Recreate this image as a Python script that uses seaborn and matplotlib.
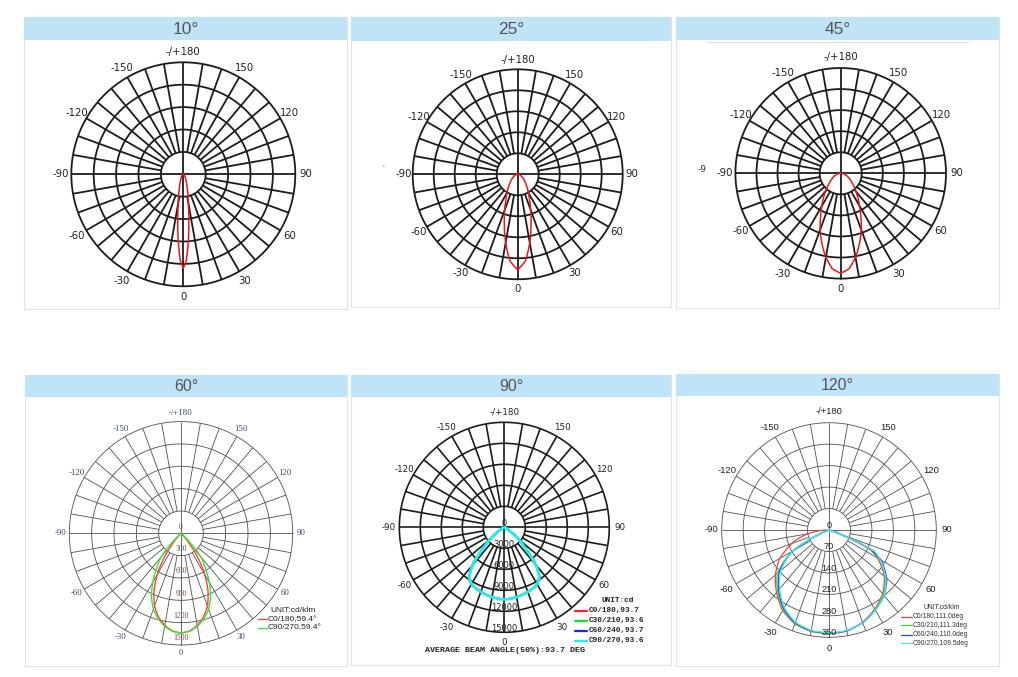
import numpy as np
import matplotlib
matplotlib.use("Agg")
import matplotlib.pyplot as plt
from matplotlib.patches import Rectangle
import seaborn as sns

sns.set_theme(style="white")
plt.rcParams['font.family'] = ['DejaVu Sans']

W, H, DPI = 1018, 677, 100

titles = ["10°", "25°", "45°", "60°", "90°", "120°"]
angle_ticks = [0, 30, 60, 90, 120, 150, 180, -150, -120, -90, -60, -30]
angle_labels = ["0", "30", "60", "90", "120", "150", "-/+180",
                "-150", "-120", "-90", "-60", "-30"]

# ---- top row: relative intensity (% of outer ring), half profiles
gamma_10 = [0, 2, 4, 6, 8, 10, 15, 20, 30, 45, 90]
rel_10 = [84, 77, 62, 47, 35, 26, 14, 8.4, 3.9, 1.6, 0]
gamma_25 = [0, 5, 10, 15, 20, 25, 30, 40, 50, 60, 75, 90]
rel_25 = [91, 83, 66, 49, 36, 26.5, 20, 12, 7.4, 4.6, 2, 0]
gamma_45 = [0, 5, 10, 15, 20, 25, 30, 40, 50, 60, 75, 90]
rel_45 = [95, 91, 81, 69, 57, 45, 35.5, 22, 14, 9, 4, 0]
rings_top = [20, 40, 60, 80, 100]

# ---- 60° (cd/klm)
rings_60 = [300, 600, 900, 1200, 1500]
gamma_60 = [0, 5, 10, 15, 20, 25, 30, 35, 40, 45, 50, 60, 90]
c0_60 = [1340, 1318, 1255, 1165, 1040, 860, 640, 380, 150, 40, 10, 3, 0]
c90_60 = [1340, 1322, 1268, 1188, 1085, 940, 760, 565, 420, 120, 30, 8, 0]
legend_60 = ["C0/180,59.4°", "C90/270,59.4°"]

# ---- 90° (cd)
rings_90 = [3000, 6000, 9000, 12000, 15000]
gamma_90 = [0, 5, 10, 15, 20, 25, 30, 35, 40, 45, 50, 55, 60, 70, 90]
c0_90 = [10280, 10240, 10110, 9970, 9830, 9650, 9420, 8850, 7150, 4400, 2700, 1200, 400, 80, 0]
c30_90 = [10290, 10245, 10115, 9975, 9825, 9640, 9400, 8800, 7100, 4350, 2650, 1150, 380, 70, 0]
c60_90 = [10285, 10240, 10110, 9970, 9815, 9625, 9380, 8780, 7080, 4330, 2620, 1120, 360, 65, 0]
c90_90 = [10300, 10250, 10120, 9980, 9820, 9620, 9360, 8750, 7050, 4300, 2600, 1100, 350, 60, 0]
legend_90 = ["C0/180,93.7", "C30/210,93.6", "C60/240,93.7", "C90/270,93.6"]
beam_note_90 = "AVERAGE BEAM ANGLE(50%):93.7 DEG"

# ---- 120° (cd/klm), full profiles from -90 to 90
rings_120 = [70, 140, 210, 280, 350]
gamma_120 = [-90, -80, -70, -65, -60, -50, -40, -30, -20, -10, 0,
             10, 20, 30, 40, 50, 60, 65, 70, 80, 90]
c0_120 = [0, 70, 130, 155, 185, 228, 266, 303, 326, 336, 338,
          335, 320, 298, 272, 236, 182, 148, 8, 0, 0]
c30_120 = [0, 0, 10, 60, 140, 220, 262, 300, 324, 335, 337,
           334, 322, 300, 276, 240, 190, 150, 12, 0, 0]
c60_120 = [0, 0, 5, 40, 135, 212, 256, 296, 322, 334, 336,
           334, 322, 302, 280, 246, 196, 152, 40, 0, 0]
c90_120 = [0, 0, 8, 50, 138, 205, 250, 292, 320, 333, 335,
           333, 322, 302, 280, 242, 192, 165, 25, 0, 0]
legend_120 = ["C0/180,111.0deg", "C30/210,111.3deg", "C60/240,110.0deg", "C90/270,109.5deg"]

# ------------------------------------------------------------------
fig = plt.figure(figsize=(W / DPI, H / DPI), dpi=DPI)
fig.patch.set_facecolor('white')
bg = fig.add_axes([0, 0, 1, 1])
bg.set_xlim(0, W)
bg.set_ylim(H, 0)
bg.axis('off')

panels = [(24, 17, 347, 309, 40), (351, 17, 671, 307, 40.5), (676, 17, 999, 308, 40),
          (25, 375, 347, 666, 397), (351, 375, 671, 665, 397), (676, 374, 999, 666, 396)]
title_fs = [12.5, 12.5, 12.5, 11.5, 11.5, 11.5]
for (x0, y0, x1, y1, yh), t, fs in zip(panels, titles, title_fs):
    bg.add_patch(Rectangle((x0, y0), x1 - x0, y1 - y0, facecolor='white',
                           edgecolor='#e3e3e3', lw=0.8))
    bg.add_patch(Rectangle((x0, y0), x1 - x0, yh - y0, facecolor='#bfe4f8', edgecolor='none'))
    bg.text((x0 + x1) / 2, (y0 + yh) / 2 + 0.5, t, ha='center', va='center',
            fontsize=fs, color='#555555', family='Liberation Sans')
bg.plot([707, 968], [41.7, 41.7], color='#dddddd', lw=0.8)
bg.text(383, 167, "'", fontsize=5, color='#666666', ha='center', va='center')
stray = bg.text(698, 170, "-9", fontsize=6.5, color='#333333', ha='left', va='center')
stray.set_clip_path(Rectangle((690, 160), 17, 20, transform=bg.transData))


def make_polar(cx, cy, R):
    ax = fig.add_axes([(cx - R) / W, 1 - (cy + R) / H, 2 * R / W, 2 * R / H],
                      projection='polar')
    ax.set_theta_zero_location('S')
    ax.set_theta_direction(1)
    ax.grid(False)
    ax.spines['polar'].set_visible(False)
    ax.patch.set_visible(False)
    return ax


def finish(ax, rmax):
    ax.set_xticks([])
    ax.set_yticks([])
    ax.set_xlabel('')
    ax.set_ylabel('')
    ax.set_ylim(0, rmax)


def draw_grid(ax, rings, color, lw):
    th = np.linspace(0, 2 * np.pi, 361)
    for r in rings:
        ax.plot(th, np.full_like(th, r), color=color, lw=lw, clip_on=False)
    r1, rmax = rings[0], rings[-1]
    for a in range(0, 360, 10):
        start = 0 if a % 90 == 0 else r1
        ax.plot([np.radians(a)] * 2, [start, rmax], color=color, lw=lw,
                clip_on=False, solid_capstyle='butt')


def angle_text(ax, rmax, k, **kw):
    for a, s in zip(angle_ticks, angle_labels):
        ax.text(np.radians(a), rmax * k, s, ha='center', va='center', **kw)


def radial_text(ax, rings, off, **kw):
    step = rings[0]
    ax.text(np.pi, off * step, "0", ha='center', va='center', **kw)
    for r in rings:
        ax.text(0, r - off * step, f"{r}", ha='center', va='center', **kw)


def mirror(g, v):
    g = np.asarray(g, float)
    v = np.asarray(v, float)
    th = np.radians(np.concatenate([-g[::-1], g[1:]]))
    rr = np.concatenate([v[::-1], v[1:]])
    return th, rr


def curve(ax, th, rr, color, lw):
    n_before = len(ax.lines)
    sns.lineplot(x=th, y=rr, ax=ax, sort=False, estimator=None, color=color, lw=lw)
    for ln in ax.lines[n_before:]:
        # let the polar transform draw each segment as a smooth arc/spiral
        ln.get_path()._interpolation_steps = 40
        ln.set_solid_joinstyle('round')


# ---- top row
top_specs = [((183.3, 174.3, 112), gamma_10, rel_10, 1.095),
             ((517.7, 174.3, 105), gamma_25, rel_25, 1.09),
             ((840.7, 173.3, 105.3), gamma_45, rel_45, 1.10)]
for (cx, cy, R), g, v, k in top_specs:
    ax = make_polar(cx, cy, R)
    draw_grid(ax, rings_top, '#1c1c1c', 1.3)
    th, rr = mirror(g, v)
    curve(ax, th, rr, '#e8191e', 1.1)
    angle_text(ax, 100, k, fontsize=7.3, color='#222222', family='DejaVu Sans')
    finish(ax, 100)

# ---- 60°
ax = make_polar(181, 533.3, 111.7)
draw_grid(ax, rings_60, '#505050', 0.6)
for vals, col in [(c0_60, '#ff4040'), (c90_60, '#33e833')]:
    th, rr = mirror(gamma_60, vals)
    curve(ax, th, rr, col, 1.0)
angle_text(ax, 1500, 1.075, fontsize=6.3, color='#3b4a66', family='Liberation Serif')
radial_text(ax, rings_60, 0.3, fontsize=5.6, color='#6a5040', family='Liberation Serif')
finish(ax, 1500)
bg.text(293.3, 610, "UNIT:cd/klm", ha='center', va='center', fontsize=6,
        color='#222222', family='Liberation Sans')
for i, (s, col) in enumerate(zip(legend_60, ['#ff4040', '#33e833'])):
    y = 619.3 + i * 8.4
    bg.plot([258, 266.7], [y, y], color=col, lw=1.0)
    bg.text(267.3, y, s, ha='left', va='center', fontsize=6, color='#222222',
            family='Liberation Sans')

# ---- 90°
ax = make_polar(504.3, 527.3, 105)
draw_grid(ax, rings_90, '#1c1c1c', 1.2)
cols_90 = ['#ff2020', '#20e020', '#2020ff', '#20f0f0']
for vals, col, lw in zip([c0_90, c30_90, c60_90, c90_90], cols_90, [1.4, 1.4, 1.4, 2.0]):
    th, rr = mirror(gamma_90, vals)
    curve(ax, th, rr, col, lw)
angle_text(ax, 15000, 1.10, fontsize=6.3, color='#222222', family='DejaVu Sans')
radial_text(ax, rings_90, 0.2, fontsize=6, color='#222222', family='DejaVu Sans')
finish(ax, 15000)
bg.text(617.3, 600.7, "UNIT:cd", ha='center', va='center', fontsize=5.6,
        fontweight='bold', color='#222222', family='Liberation Mono')
for i, (s, col) in enumerate(zip(legend_90, cols_90)):
    y = 610.7 + i * 10
    bg.plot([575, 586.7], [y, y], color=col, lw=1.6)
    bg.text(588.3, y, s, ha='left', va='center', fontsize=5.6, fontweight='bold',
            color='#222222', family='Liberation Mono')
bg.text(505, 650, beam_note_90, ha='center', va='center', fontsize=6.0,
        fontweight='bold', color='#222222', family='Liberation Mono')

# ---- 120°
ax = make_polar(829, 530, 107.3)
draw_grid(ax, rings_120, '#505050', 0.6)
cols_120 = ['#ff3b3b', '#3be03b', '#3b3bff', '#3bf0f0']
for vals, col in zip([c0_120, c30_120, c60_120, c90_120], cols_120):
    curve(ax, np.radians(gamma_120), np.asarray(vals, float), col, 0.9)
angle_text(ax, 350, 1.10, fontsize=6.8, color='#222222', family='Liberation Sans')
radial_text(ax, rings_120, 0.22, fontsize=6.6, color='#222222', family='Liberation Sans')
finish(ax, 350)
bg.text(941.7, 607.3, "UNIT:cd/klm", ha='center', va='center', fontsize=4.9,
        color='#333333', family='Liberation Sans')
for i, (s, col, y) in enumerate(zip(legend_120, cols_120, [616.7, 625.3, 635, 643.3])):
    bg.plot([901, 911.7], [y, y], color=col, lw=0.9)
    bg.text(912.3, y, s, ha='left', va='center', fontsize=4.9, color='#333333',
            family='Liberation Sans')

fig.savefig("out.png", dpi=DPI, facecolor='white')
